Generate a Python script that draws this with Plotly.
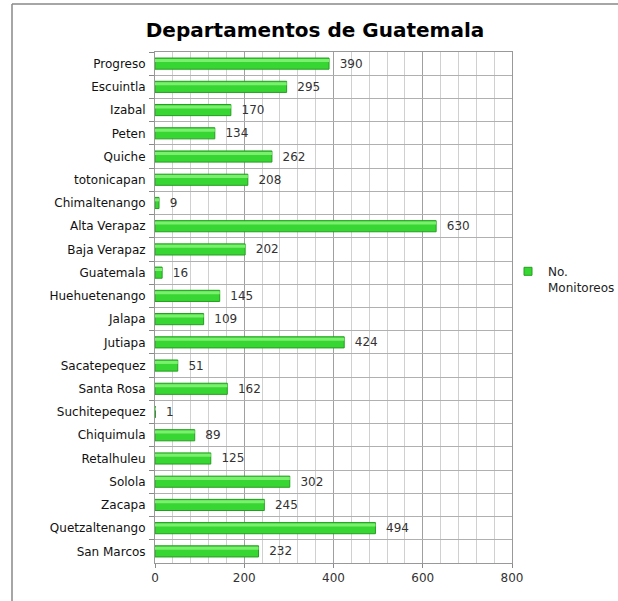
import plotly.graph_objects as go

categories = ["Progreso", "Escuintla", "Izabal", "Peten", "Quiche", "totonicapan",
              "Chimaltenango", "Alta Verapaz", "Baja Verapaz", "Guatemala",
              "Huehuetenango", "Jalapa", "Jutiapa", "Sacatepequez", "Santa Rosa",
              "Suchitepequez", "Chiquimula", "Retalhuleu", "Solola", "Zacapa",
              "Quetzaltenango", "San Marcos"]
values = [390, 295, 170, 134, 262, 208, 9, 630, 202, 16, 145, 109, 424, 51, 162,
          1, 89, 125, 302, 245, 494, 232]
series_name = "No.<br>Monitoreos"
title_text = "Departamentos de Guatemala"

W, H = 618, 601
L, R, T, B = 155, 512, 52, 563
pw, ph = R - L, B - T

def px(x):
    return (x - L) / pw

def py(y):
    return (B - y) / ph

fig = go.Figure()
# main bars
fig.add_trace(go.Bar(
    x=values, y=categories, orientation="h", name=series_name,
    width=0.48,
    marker=dict(color="#38d632", line=dict(color="#249e20", width=1)),
    texttemplate="  %{x}", textposition="outside", cliponaxis=False,
    constraintext="none",
    textfont=dict(family="DejaVu Sans", size=12, color="#333333"),
    showlegend=False, hoverinfo="x+y",
))
# highlight stripe for a glossy look
fig.add_trace(go.Bar(
    x=values, y=categories, orientation="h", name="",
    width=0.13, offset=-0.2,
    marker=dict(color="#7af06e", line=dict(width=0)),
    showlegend=False, hoverinfo="skip",
))
# legend entry
fig.add_trace(go.Scatter(
    x=[None], y=[None], mode="markers", name=series_name,
    marker=dict(symbol="square", size=8, color="#38d632",
                line=dict(color="#249e20", width=1)),
    showlegend=True,
))

fig.update_layout(
    width=W, height=H,
    margin=dict(l=L, r=W - R, t=T, b=H - B, autoexpand=False),
    paper_bgcolor="white", plot_bgcolor="white",
    barmode="overlay",
    title=dict(text="<b>" + title_text + "</b>", x=315 / W, xanchor="center",
               y=1 - 30 / H, yanchor="middle",
               font=dict(family="DejaVu Sans", size=20, color="black")),
    showlegend=True,
    legend=dict(x=px(508), y=py(257), xanchor="left", yanchor="top",
                valign="top",
                font=dict(family="DejaVu Sans", size=12, color="#222222"),
                itemwidth=30, tracegroupgap=0, bgcolor="rgba(0,0,0,0)"),
)

fig.update_xaxes(
    range=[0, 800], dtick=200, tick0=0,
    showgrid=True, gridcolor="#a0a0a0", gridwidth=1,
    minor=dict(dtick=40, showgrid=True, gridcolor="#d0d0d0", gridwidth=1),
    ticks="outside", ticklen=4, tickcolor="#888888",
    showline=True, linecolor="#999999", mirror=True,
    tickfont=dict(family="DejaVu Sans", size=12, color="#333333"),
    zeroline=False, fixedrange=True,
)
fig.update_yaxes(
    autorange="reversed", type="category",
    tickson="boundaries", ticks="outside", ticklen=5, tickcolor="#888888",
    showgrid=True, gridcolor="#b0b0b0", gridwidth=1,
    showline=True, linecolor="#999999", mirror=True,
    tickfont=dict(family="DejaVu Sans", size=12, color="#111111"),
    ticklabelstandoff=6,
)

# outer chart border (left and top visible)
fig.add_shape(type="line", xref="paper", yref="paper",
              x0=px(12), x1=px(12), y0=py(601), y1=py(4),
              line=dict(color="#888888", width=1.5))
fig.add_shape(type="line", xref="paper", yref="paper",
              x0=px(12), x1=px(618), y0=py(4), y1=py(4),
              line=dict(color="#888888", width=1.5))

fig.write_html("out.html", config={"displayModeBar": False},
               post_script="document.body.style.margin='0';document.body.style.overflow='hidden';")
